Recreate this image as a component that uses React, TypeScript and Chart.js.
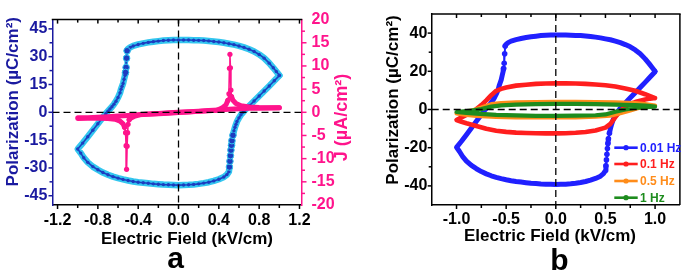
import React, { useEffect, useRef } from 'react';
import { Chart, registerables } from 'chart.js';

Chart.register(...registerables);

// ---------------- DATA ----------------
// Panel a / 0.01 Hz P–E loop (µC/cm²): decreasing-field sweep (upper branch)
const sweepDownE = [1.0, 0.97, 0.94, 0.9, 0.85, 0.8, 0.75, 0.7, 0.65, 0.6, 0.55, 0.5, 0.45, 0.4, 0.35, 0.3, 0.25, 0.2, 0.15, 0.1, 0.05, 0, -0.05, -0.1, -0.15, -0.2, -0.25, -0.3, -0.35, -0.4, -0.45, -0.48, -0.5, -0.51, -0.515, -0.52, -0.525, -0.53, -0.54, -0.55, -0.56, -0.57, -0.58, -0.6, -0.62, -0.64, -0.66, -0.68, -0.7, -0.72, -0.75, -0.8, -0.85, -0.9, -0.95, -1.0];
const sweepDownP = [20, 22, 24, 26.5, 29.2, 31.2, 32.8, 34, 35, 35.8, 36.5, 37, 37.5, 37.9, 38.2, 38.5, 38.7, 38.8, 38.9, 39, 39, 39, 39, 38.9, 38.7, 38.4, 38.1, 37.7, 37.2, 36.6, 35.8, 35, 34.2, 33.2, 29.2, 24.2, 21.5, 20, 17.8, 15.5, 14, 12.5, 10.5, 8, 6, 4.4, 3, 1.8, 0.6, -0.6, -2.7, -6.2, -9.7, -13.2, -16.6, -19.8];
// increasing-field sweep (lower branch)
const sweepUpE = [-1.0, -0.97, -0.94, -0.9, -0.85, -0.8, -0.75, -0.7, -0.65, -0.6, -0.55, -0.5, -0.45, -0.4, -0.35, -0.3, -0.25, -0.2, -0.15, -0.1, -0.05, 0, 0.05, 0.1, 0.15, 0.2, 0.25, 0.3, 0.35, 0.4, 0.45, 0.48, 0.5, 0.505, 0.51, 0.515, 0.52, 0.525, 0.53, 0.54, 0.55, 0.56, 0.57, 0.58, 0.6, 0.62, 0.64, 0.66, 0.7, 0.75, 0.8, 0.85, 0.9, 0.95, 1.0];
const sweepUpP = [-19.8, -22, -24.5, -27, -29.3, -31, -32.5, -33.7, -34.7, -35.5, -36.2, -36.8, -37.3, -37.7, -38, -38.3, -38.6, -38.8, -39, -39.1, -39.2, -39.3, -39.2, -39.1, -38.9, -38.6, -38.2, -37.7, -37, -36.1, -34.9, -33.6, -32, -29.5, -26.4, -23.4, -20.4, -17.8, -15.3, -12.4, -10, -8.1, -6.5, -5, -3, -1.3, 0, 1.2, 3.4, 6.1, 8.8, 11.5, 14.2, 17, 19.8];

// Panel a current density J (µA/cm²)
const jDownE = [1.0, 0.9, 0.8, 0.7, 0.6, 0.5, 0.4, 0.3, 0.2, 0.1, 0, -0.1, -0.2, -0.3, -0.38, -0.43, -0.47, -0.49, -0.5, -0.505, -0.51, -0.515, -0.52, -0.525, -0.535, -0.55, -0.58, -0.63, -0.7, -0.8, -0.9, -1.0];
const jDownJ = [1.0, 0.95, 0.9, 0.85, 0.75, 0.65, 0.5, 0.38, 0.25, 0.12, 0, -0.12, -0.25, -0.38, -0.5, -0.8, -1.2, -1.6, -2.6, -4.4, -7.3, -12.3, -7.2, -4.4, -3.2, -2.5, -1.9, -1.5, -1.35, -1.3, -1.3, -1.35];
const jUpE = [-1.0, -0.9, -0.8, -0.7, -0.6, -0.5, -0.4, -0.3, -0.2, -0.1, 0, 0.1, 0.2, 0.3, 0.38, 0.43, 0.47, 0.49, 0.5, 0.505, 0.51, 0.515, 0.52, 0.525, 0.54, 0.57, 0.62, 0.7, 0.8, 0.9, 1.0];
const jUpJ = [-1.2, -1.15, -1.05, -0.95, -0.82, -0.7, -0.55, -0.42, -0.3, -0.18, -0.05, 0.08, 0.2, 0.32, 0.45, 0.9, 1.6, 2.6, 4.0, 9.5, 12.5, 9.6, 4.8, 3.4, 2.6, 1.9, 1.4, 1.15, 1.05, 1.0, 1.0];

// Panel b: 0.1 Hz
const redDownE = [1.0, 0.95, 0.9, 0.8, 0.7, 0.6, 0.5, 0.4, 0.3, 0.2, 0.1, 0, -0.1, -0.2, -0.3, -0.4, -0.5, -0.55, -0.6, -0.65, -0.7, -0.75, -0.8, -0.85, -0.9, -0.95, -1.0];
const redDownP = [6, 7, 8, 9.8, 11, 12, 12.7, 13.1, 13.4, 13.6, 13.7, 13.7, 13.6, 13.4, 13, 12.5, 11.5, 10.8, 9.8, 7.5, 4.8, 2.3, 0.2, -1.4, -2.8, -4.1, -5.5];
const redUpE = [-1.0, -0.95, -0.9, -0.8, -0.7, -0.6, -0.5, -0.4, -0.3, -0.2, -0.1, 0, 0.1, 0.2, 0.3, 0.4, 0.5, 0.55, 0.6, 0.65, 0.7, 0.75, 0.8, 0.85, 0.9, 0.95, 1.0];
const redUpP = [-5.5, -6.4, -7.2, -8.6, -10.1, -11.1, -11.7, -12.1, -12.3, -12.4, -12.5, -12.5, -12.4, -12.2, -11.8, -11, -9.5, -7.5, -4, -0.8, 1.5, 3.0, 3.9, 4.6, 5.2, 5.7, 6];
// 0.5 Hz
const orangeDownE = [1.0, 0.9, 0.8, 0.6, 0.4, 0.2, 0, -0.2, -0.4, -0.55, -0.65, -0.75, -0.85, -0.95, -1.0];
const orangeDownP = [2, 2.8, 3.3, 3.7, 3.9, 4, 4, 3.9, 3.7, 3.4, 2.8, 1, -0.6, -1.6, -2];
const orangeUpE = [-1.0, -0.9, -0.8, -0.6, -0.4, -0.2, 0, 0.2, 0.4, 0.55, 0.65, 0.75, 0.85, 0.95, 1.0];
const orangeUpP = [-2, -2.8, -3.4, -3.9, -4.1, -4.2, -4.2, -4.1, -3.8, -3.2, -2, -0.5, 1, 1.8, 2];
// 1 Hz
const greenDownE = [1.0, 0.9, 0.8, 0.6, 0.4, 0.2, 0, -0.2, -0.4, -0.55, -0.65, -0.75, -0.85, -0.95, -1.0];
const greenDownP = [1.5, 2, 2.3, 2.6, 2.8, 2.9, 2.9, 2.8, 2.6, 2.2, 1.5, 0.2, -0.6, -1.1, -1.3];
const greenUpE = [-1.0, -0.9, -0.8, -0.6, -0.4, -0.2, 0, 0.2, 0.4, 0.5, 0.6, 0.7, 0.8, 0.9, 1.0];
const greenUpP = [-1.3, -1.8, -2.2, -2.8, -3.1, -3.3, -3.3, -3.2, -3.0, -2.6, -1.2, 0, 0.8, 1.2, 1.5];

const freqLabels = ['0.01 Hz', '0.1 Hz', '0.5 Hz', '1 Hz'];

// axis settings
const axisA = { xMin: -1.25, xMax: 1.22, xStep: 0.2, xLabelStep: 0.4, yMin: -50, yMax: 50, yStep: 7.5, yLabelStep: 15, y1Min: -20, y1Max: 20, y1Step: 2.5, y1LabelStep: 5 };
const axisB = { xMin: -1.25, xMax: 1.25, xStep: 0.25, xLabelStep: 0.5, yMin: -50, yMax: 50, yStep: 10, yLabelStep: 20 };

// ---------------- STYLE ----------------
const FAMILY = "'Liberation Sans', Arial, Helvetica, sans-serif";
const NAVY = '#1a1aa0';
const PINK = '#ff148c';
const CYAN = '#33c6ef';
const CORE = '#1d3cc0';
const BLUE = '#2020ff';
const RED = '#ff1e1e';
const ORANGE = '#ff8c1a';
const GREEN = '#1e8c1e';
const freqColors = [BLUE, RED, ORANGE, GREEN];

Chart.defaults.font.family = FAMILY;

const toPts = (xs: number[], ys: number[]) => xs.map((x, i) => ({ x, y: ys[i] }));
const closeLoop = (dE: number[], dP: number[], uE: number[], uP: number[]) =>
  toPts(dE, dP).concat(toPts(uE, uP).slice(1));

const isMult = (v: number, m: number) => Math.abs(v / m - Math.round(v / m)) < 1e-6;

function sparseSeg(data: any[], i0: number, i1: number, dyMin: number) {
  const a = data[i0], b = data[i1];
  if (!a || !b) return false;
  return Math.abs(b.x - a.x) < 0.012 && Math.abs(b.y - a.y) > dyMin;
}
function isDot(data: any[], i: number, dyMin: number) {
  return (i > 0 && sparseSeg(data, i - 1, i, dyMin)) || (i < data.length - 1 && sparseSeg(data, i, i + 1, dyMin));
}

function tickOpts(color: string, padding: number, step: number, labelStep: number, fmt: (v: number) => string) {
  return {
    stepSize: step,
    includeBounds: false,
    autoSkip: false,
    maxRotation: 0,
    minRotation: 0,
    color,
    padding,
    font: { family: FAMILY, size: 16, weight: 'bold' as const },
    callback: (v: any) => {
      const n = Number(v);
      return isMult(n, labelStep) ? fmt(n) : '';
    },
  };
}

function makeDecor(spec: any) {
  return {
    id: spec.id,
    afterDatasetsDraw(chart: any) {
      const { ctx, chartArea: a } = chart;
      ctx.save();
      ctx.beginPath();
      ctx.rect(a.left, a.top, a.right - a.left, a.bottom - a.top);
      ctx.clip();
      ctx.strokeStyle = '#000';
      ctx.lineWidth = 1.3;
      ctx.setLineDash([7, 4]);
      for (const r of spec.refLines) {
        const sc = chart.scales[r.scale];
        const p = sc.getPixelForValue(r.value);
        ctx.beginPath();
        if (sc.isHorizontal()) {
          ctx.moveTo(p, a.top);
          ctx.lineTo(p, a.bottom);
        } else {
          ctx.moveTo(a.left, p);
          ctx.lineTo(a.right, p);
        }
        ctx.stroke();
      }
      ctx.restore();
    },
    afterDraw(chart: any) {
      const { ctx, chartArea: a } = chart;
      ctx.save();
      // spines
      ctx.lineWidth = 1.5;
      for (const s of spec.spines) {
        ctx.strokeStyle = s.color;
        ctx.beginPath();
        if (s.side === 'top') {
          ctx.moveTo(a.left - 0.75, a.top);
          ctx.lineTo(a.right + 0.75, a.top);
        } else if (s.side === 'right') {
          ctx.moveTo(a.right, a.top);
          ctx.lineTo(a.right, a.bottom);
        }
        ctx.stroke();
      }
      // ticks
      for (const t of spec.ticks) {
        const sc = chart.scales[t.scale];
        ctx.strokeStyle = t.color;
        ctx.lineWidth = 1.5;
        const horiz = t.side === 'top' || t.side === 'bottom';
        for (const tk of sc.ticks) {
          const p = sc.getPixelForValue(tk.value);
          if (horiz ? p < a.left + 1 || p > a.right - 1 : p < a.top + 1 || p > a.bottom - 1) continue;
          const len = tk.label ? t.major : t.minor;
          const dir = t.inward ? -1 : 1;
          ctx.beginPath();
          if (t.side === 'bottom') {
            ctx.moveTo(p, a.bottom);
            ctx.lineTo(p, a.bottom + dir * len);
          } else if (t.side === 'top') {
            ctx.moveTo(p, a.top);
            ctx.lineTo(p, a.top - dir * len);
          } else if (t.side === 'left') {
            ctx.moveTo(a.left, p);
            ctx.lineTo(a.left - dir * len, p);
          } else {
            ctx.moveTo(a.right, p);
            ctx.lineTo(a.right + dir * len, p);
          }
          ctx.stroke();
        }
      }
      // texts
      for (const tx of spec.texts) {
        ctx.save();
        ctx.font = `bold ${tx.size}px ${FAMILY}`;
        ctx.fillStyle = tx.color;
        ctx.textAlign = 'center';
        ctx.textBaseline = 'alphabetic';
        ctx.translate(tx.x, tx.y);
        if (tx.rot) ctx.rotate((tx.rot * Math.PI) / 180);
        ctx.fillText(tx.text, 0, 0);
        ctx.restore();
      }
      // legend
      if (spec.legend) {
        const L = spec.legend;
        L.items.forEach((it: any, i: number) => {
          const y = L.ys[i];
          ctx.strokeStyle = it.color;
          ctx.fillStyle = it.color;
          ctx.lineWidth = 2.6;
          ctx.setLineDash([]);
          ctx.beginPath();
          ctx.moveTo(L.x0, y);
          ctx.lineTo(L.x1, y);
          ctx.stroke();
          ctx.beginPath();
          ctx.arc((L.x0 + L.x1) / 2, y, 2.6, 0, Math.PI * 2);
          ctx.fill();
          ctx.font = `bold ${L.size}px ${FAMILY}`;
          ctx.textAlign = 'left';
          ctx.textBaseline = 'middle';
          ctx.fillText(it.label, L.tx, y + 0.5);
        });
      }
      ctx.restore();
    },
  };
}

function configA(): any {
  const loop = closeLoop(sweepDownE, sweepDownP, sweepUpE, sweepUpP);
  const jLoop = toPts(jDownE, jDownJ).concat(toPts(jUpE, jUpJ));
  const decor = makeDecor({
    id: 'decorA',
    refLines: [{ scale: 'y', value: 0 }, { scale: 'x', value: 0 }],
    spines: [{ side: 'top', color: '#000' }],
    ticks: [
      { scale: 'x', side: 'bottom', color: '#000', major: 4, minor: 3 },
      { scale: 'x', side: 'top', inward: true, color: '#000', major: 4, minor: 3 },
      { scale: 'y', side: 'left', color: NAVY, major: 4, minor: 3 },
      { scale: 'y1', side: 'right', color: PINK, major: 5, minor: 3.5 },
    ],
    texts: [
      { text: 'Polarization (µC/cm²)', x: 17.5, y: 101.7, rot: -90, color: NAVY, size: 17 },
      { text: 'J (µA/cm²)', x: 347, y: 117.5, rot: -90, color: PINK, size: 18 },
      { text: 'Electric Field (kV/cm)', x: 187, y: 244.3, color: '#000', size: 17 },
      { text: 'a', x: 175.5, y: 268.3, color: '#000', size: 30 },
    ],
  });
  return {
    type: 'scatter',
    data: {
      datasets: [
        {
          label: 'J',
          data: jLoop,
          yAxisID: 'y1',
          showLine: true,
          borderColor: PINK,
          borderWidth: 5,
          borderJoinStyle: 'round',
          borderCapStyle: 'round',
          segment: { borderWidth: (c: any) => (sparseSeg(jLoop, c.p0DataIndex, c.p1DataIndex, 0.8) ? 1.6 : 5) },
          pointRadius: (c: any) => (isDot(jLoop, c.dataIndex, 0.8) ? 2.6 : 0),
          pointBackgroundColor: PINK,
          pointBorderWidth: 0,
          order: 1,
        },
        {
          label: 'P',
          data: loop,
          yAxisID: 'y',
          showLine: true,
          borderColor: CORE,
          borderWidth: 1.6,
          pointRadius: (c: any) => (isDot(loop, c.dataIndex, 2.5) ? 3.3 : 1.7),
          pointBackgroundColor: CORE,
          pointBorderColor: CYAN,
          pointBorderWidth: (c: any) => (isDot(loop, c.dataIndex, 2.5) ? 1 : 0),
          order: 2,
        },
        {
          label: 'P band',
          data: loop,
          yAxisID: 'y',
          showLine: true,
          borderColor: CYAN,
          borderWidth: 6.5,
          borderJoinStyle: 'round',
          borderCapStyle: 'round',
          segment: { borderWidth: (c: any) => (sparseSeg(loop, c.p0DataIndex, c.p1DataIndex, 2.5) ? 3.5 : 6.5) },
          pointRadius: 0,
          order: 3,
        },
      ],
    },
    options: {
      responsive: false,
      animation: false,
      events: [],
      layout: { padding: { top: 8.3, left: 0, right: 0, bottom: 0 } },
      plugins: { legend: { display: false }, tooltip: { enabled: false } },
      scales: {
        x: {
          type: 'linear',
          position: 'bottom',
          min: axisA.xMin,
          max: axisA.xMax,
          ticks: tickOpts('#000', 5.9, axisA.xStep, axisA.xLabelStep, (v) => v.toFixed(1)),
          grid: { display: true, drawOnChartArea: false, drawTicks: false },
          border: { display: true, color: '#000', width: 1.5 },
          title: { display: false },
          afterFit: (s: any) => { s.height = 66; },
        },
        y: {
          type: 'linear',
          position: 'left',
          min: axisA.yMin,
          max: axisA.yMax,
          ticks: tickOpts(NAVY, 5.2, axisA.yStep, axisA.yLabelStep, (v) => String(Math.round(v))),
          grid: { display: true, drawOnChartArea: false, drawTicks: false },
          border: { display: true, color: NAVY, width: 1.5 },
          afterFit: (s: any) => { s.width = 52.5; },
        },
        y1: {
          type: 'linear',
          position: 'right',
          min: axisA.y1Min,
          max: axisA.y1Max,
          ticks: tickOpts(PINK, 10, axisA.y1Step, axisA.y1LabelStep, (v) => String(Math.round(v))),
          grid: { display: true, drawOnChartArea: false, drawTicks: false },
          border: { display: true, color: PINK, width: 1.5 },
          afterFit: (s: any) => { s.width = 76.5; },
        },
      },
    },
    plugins: [decor],
  };
}

function configB(): any {
  const loops = [
    closeLoop(sweepDownE, sweepDownP, sweepUpE, sweepUpP),
    closeLoop(redDownE, redDownP, redUpE, redUpP),
    closeLoop(orangeDownE, orangeDownP, orangeUpE, orangeUpP),
    closeLoop(greenDownE, greenDownP, greenUpE, greenUpP),
  ];
  const widths = [5, 4.6, 4.2, 4.2];
  const orders = [3, 2, 1, 0];
  const decor = makeDecor({
    id: 'decorB',
    refLines: [{ scale: 'y', value: 0 }, { scale: 'x', value: 0 }],
    spines: [{ side: 'top', color: '#000' }, { side: 'right', color: '#000' }],
    ticks: [
      { scale: 'x', side: 'bottom', color: '#000', major: 4, minor: 3 },
      { scale: 'x', side: 'top', inward: true, color: '#000', major: 4, minor: 3 },
      { scale: 'y', side: 'left', color: '#000', major: 4, minor: 3 },
    ],
    texts: [
      { text: 'Polarization (µC/cm²)', x: 18.3, y: 100, rot: -90, color: '#000', size: 17 },
      { text: 'Electric Field (kV/cm)', x: 170, y: 240.7, color: '#000', size: 17 },
      { text: 'b', x: 179.5, y: 269.5, color: '#000', size: 30 },
    ],
    legend: {
      x0: 234.3,
      x1: 257.7,
      tx: 260,
      ys: [147.7, 164, 181, 197.7],
      size: 12,
      items: freqLabels.map((label, i) => ({ label, color: freqColors[i] })),
    },
  });
  return {
    type: 'scatter',
    data: {
      datasets: loops.map((data, i) => ({
        label: freqLabels[i],
        data,
        showLine: true,
        borderColor: freqColors[i],
        borderWidth: widths[i],
        borderJoinStyle: 'round',
        borderCapStyle: 'round',
        segment: { borderWidth: (c: any) => (sparseSeg(data, c.p0DataIndex, c.p1DataIndex, 2.5) ? 2 : widths[i]) },
        pointRadius: (c: any) => (i === 0 && isDot(data, c.dataIndex, 2.5) ? 2.8 : 0),
        pointBackgroundColor: freqColors[i],
        pointBorderWidth: 0,
        order: orders[i],
      })),
    },
    options: {
      responsive: false,
      animation: false,
      events: [],
      layout: { padding: { top: 8.3, left: 0, right: 1.7, bottom: 0 } },
      plugins: { legend: { display: false }, tooltip: { enabled: false } },
      scales: {
        x: {
          type: 'linear',
          position: 'bottom',
          min: axisB.xMin,
          max: axisB.xMax,
          ticks: tickOpts('#000', 5.1, axisB.xStep, axisB.xLabelStep, (v) => v.toFixed(1)),
          grid: { display: true, drawOnChartArea: false, drawTicks: false },
          border: { display: true, color: '#000', width: 1.5 },
          afterFit: (s: any) => { s.height = 66; },
        },
        y: {
          type: 'linear',
          position: 'left',
          min: axisB.yMin,
          max: axisB.yMax,
          ticks: tickOpts('#000', 4.4, axisB.yStep, axisB.yLabelStep, (v) => String(Math.round(v))),
          grid: { display: true, drawOnChartArea: false, drawTicks: false },
          border: { display: true, color: '#000', width: 1.5 },
          afterFit: (s: any) => { s.width = 51.7; },
        },
      },
    },
    plugins: [decor],
  };
}

export default function App() {
  const refA = useRef<HTMLCanvasElement>(null);
  const refB = useRef<HTMLCanvasElement>(null);
  useEffect(() => {
    const a = new Chart(refA.current as HTMLCanvasElement, configA());
    const b = new Chart(refB.current as HTMLCanvasElement, configB());
    return () => {
      a.destroy();
      b.destroy();
    };
  }, []);
  return (
    <div style={{ position: 'absolute', left: 0, top: 0, width: 685, height: 271, background: '#fff', overflow: 'hidden' }}>
      <canvas ref={refA} width={378} height={271} style={{ position: 'absolute', left: 0, top: 0, width: 378, height: 271 }} />
      <canvas ref={refB} width={305} height={271} style={{ position: 'absolute', left: 380, top: 0, width: 305, height: 271 }} />
    </div>
  );
}
